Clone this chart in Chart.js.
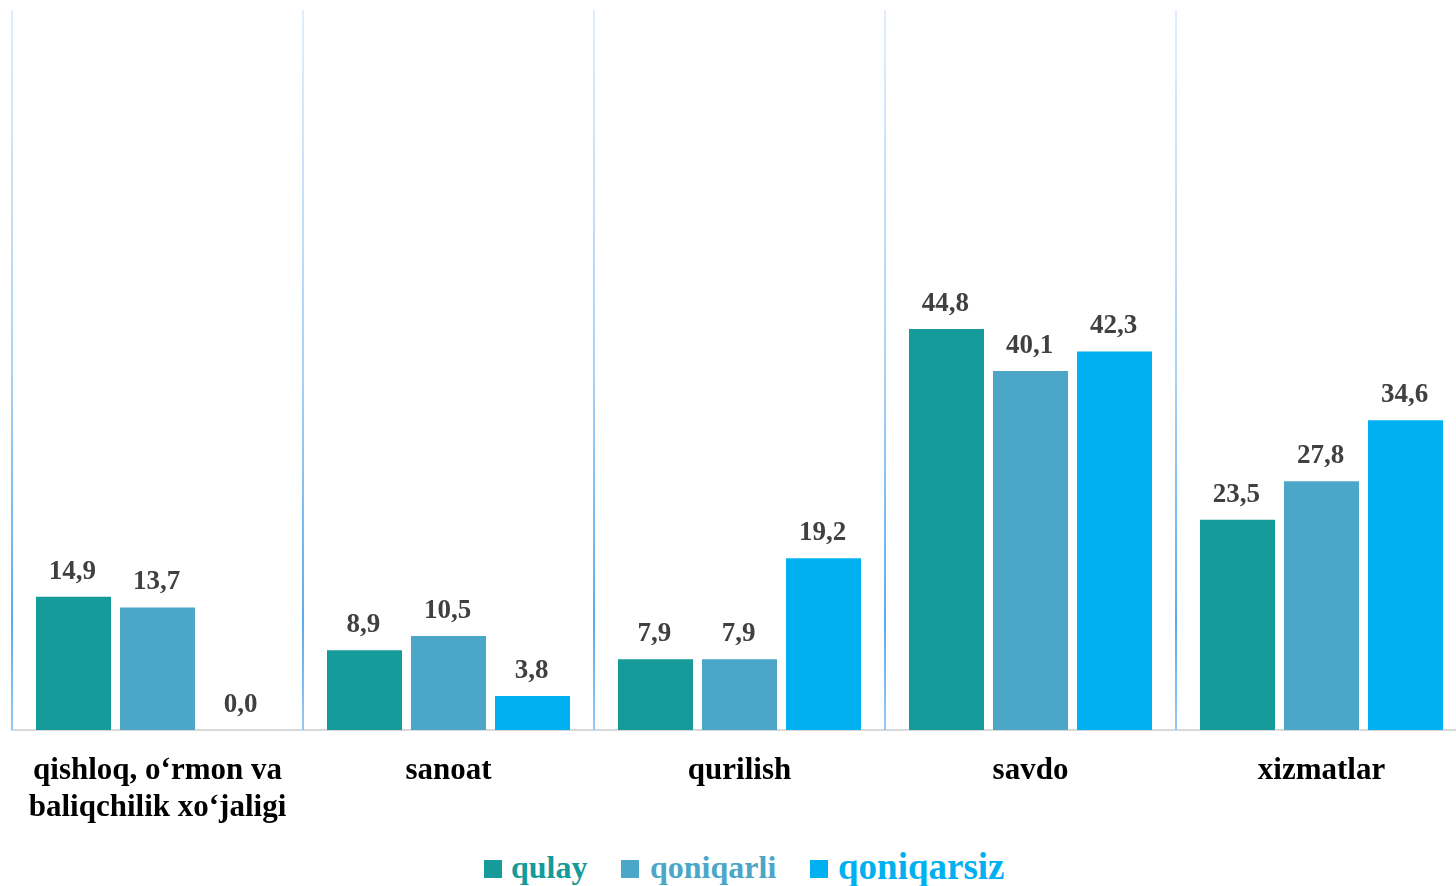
<!DOCTYPE html>
<html>
<head>
<meta charset="utf-8">
<script src="https://cdn.jsdelivr.net/npm/chart.js@4.4.1/dist/chart.umd.min.js"></script>
<style>
    html, body { margin: 0; padding: 0; background: #fff; overflow: hidden; }
    body { width: 1456px; height: 886px; position: relative; font-family: 'Liberation Serif', 'Times New Roman', serif; }
    #wrap { position: absolute; left: 0; top: 0; width: 1467px; height: 830px; }
    .lg-box { position: absolute; top: 860px; width: 18px; height: 18px; }
    .lg-text { position: absolute; font-weight: bold; line-height: 1; white-space: nowrap; }
</style>
</head>
<body>
<div id="wrap"><canvas id="chartSektor"></canvas></div>
<div id="legend"></div>

<script>
// ===== Ma'lumotlar =====
const kategoriyalar = [
    ['qishloq, o‘rmon va', 'baliqchilik xo‘jaligi'],
    'sanoat',
    'qurilish',
    'savdo',
    'xizmatlar'
];
const seriyaNomlari = ['qulay', 'qoniqarli', 'qoniqarsiz'];
const qulay      = [14.9, 8.9, 7.9, 44.8, 23.5];
const qoniqarli  = [13.7, 10.5, 7.9, 40.1, 27.8];
const qoniqarsiz = [0.0, 3.8, 19.2, 42.3, 34.6];
const ranglar = ['#169B9B', '#4BA6C8', '#00B0F0'];

const shrift = "'Liberation Serif', 'Times New Roman', serif";

// Kategoriyalar orasidagi vertikal chiziqlar (gradient)
const ajratgichPlugin = {
    id: 'ajratgich',
    beforeDatasetsDraw(chart) {
        const { ctx, chartArea } = chart;
        const n = chart.data.labels.length;
        const step = (chartArea.right - chartArea.left) / n;
        const grad = ctx.createLinearGradient(0, chartArea.top - 4, 0, chartArea.bottom);
        grad.addColorStop(0, 'rgba(225, 238, 252, 1)');
        grad.addColorStop(0.5, 'rgba(170, 210, 245, 1)');
        grad.addColorStop(0.85, 'rgba(90, 172, 238, 1)');
        grad.addColorStop(1, 'rgba(150, 200, 245, 1)');
        ctx.save();
        ctx.strokeStyle = grad;
        ctx.lineWidth = 2;
        for (let i = 0; i <= n; i++) {
            const x = Math.round(chartArea.left + i * step);
            ctx.beginPath();
            ctx.moveTo(x, chartArea.top - 4);
            ctx.lineTo(x, chartArea.bottom);
            ctx.stroke();
        }
        ctx.restore();
    }
};

// Ustun ustidagi qiymatlar
const qiymatPlugin = {
    id: 'qiymat',
    afterDatasetsDraw(chart) {
        const { ctx } = chart;
        ctx.save();
        ctx.font = 'bold 27px ' + shrift;
        ctx.fillStyle = '#404040';
        ctx.textAlign = 'center';
        ctx.textBaseline = 'alphabetic';
        chart.data.datasets.forEach((ds, i) => {
            chart.getDatasetMeta(i).data.forEach((bar, j) => {
                const matn = ds.data[j].toFixed(1).replace('.', ',');
                ctx.fillText(matn, bar.x - 1, bar.y - 18);
            });
        });
        ctx.restore();
    }
};

new Chart(document.getElementById('chartSektor'), {
    type: 'bar',
    data: {
        labels: kategoriyalar,
        datasets: [qulay, qoniqarli, qoniqarsiz].map((d, i) => ({
            label: seriyaNomlari[i],
            data: d,
            backgroundColor: ranglar[i],
            categoryPercentage: 0.866,
            barPercentage: 0.893
        }))
    },
    options: {
        responsive: true,
        maintainAspectRatio: false,
        animation: false,
        layout: { padding: { left: 12, right: 0, top: 14, bottom: 0 } },
        plugins: {
            legend: { display: false },
            tooltip: { enabled: false }
        },
        scales: {
            x: {
                grid: { display: false, drawTicks: false },
                border: { display: true, color: '#D9D9D9', width: 2 },
                ticks: {
                    color: '#000000',
                    padding: 23,
                    maxRotation: 0,
                    autoSkip: false,
                    font: { family: shrift, size: 31, weight: 'bold', lineHeight: 1.18 }
                },
                afterFit(axis) { axis.height = 100; }
            },
            y: {
                display: false,
                min: 0,
                max: 80
            }
        }
    },
    plugins: [ajratgichPlugin, qiymatPlugin]
});

// Legenda (HTML)
const legendaJoy = [
    { box: 484, text: 511, size: 32, top: 851 },
    { box: 621, text: 650, size: 32, top: 851 },
    { box: 810, text: 838, size: 37, top: 848 }
];
const legenda = document.getElementById('legend');
seriyaNomlari.forEach((nom, i) => {
    const b = document.createElement('div');
    b.className = 'lg-box';
    b.style.left = legendaJoy[i].box + 'px';
    b.style.background = ranglar[i];
    legenda.appendChild(b);
    const t = document.createElement('div');
    t.className = 'lg-text';
    t.style.left = legendaJoy[i].text + 'px';
    t.style.top = legendaJoy[i].top + 'px';
    t.style.fontSize = legendaJoy[i].size + 'px';
    t.style.color = ranglar[i];
    t.textContent = nom;
    legenda.appendChild(t);
});
</script>
</body>
</html>
